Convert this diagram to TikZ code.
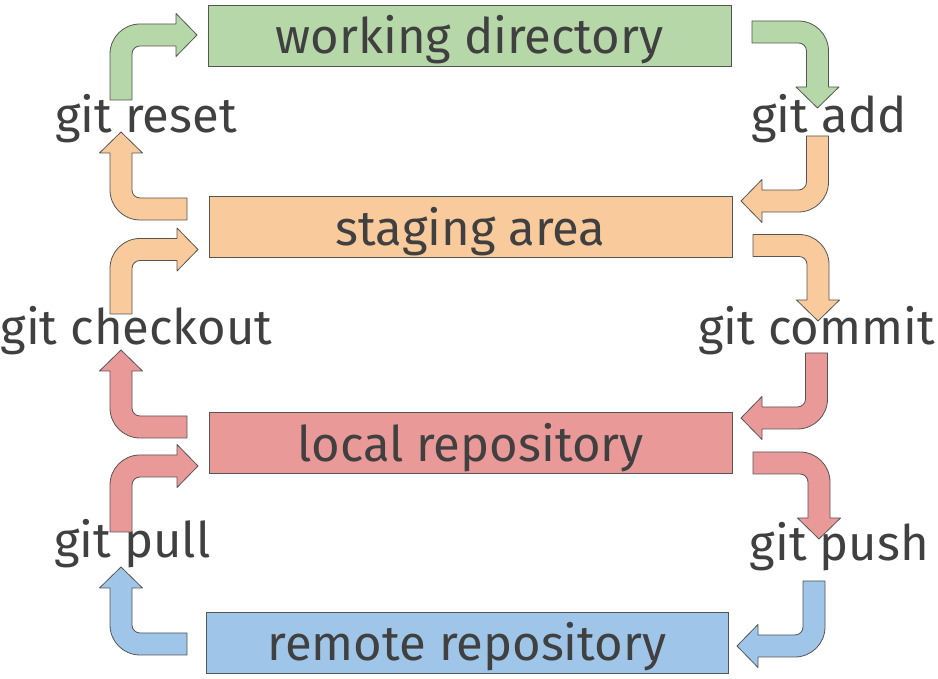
\documentclass[tikz,border=0pt]{standalone}
\usepackage{fontspec}
\setmainfont{Fira Sans}
\definecolor{edge}{HTML}{555555}
\definecolor{ink}{HTML}{404040}
\definecolor{wdfill}{HTML}{B6D7A8}
\definecolor{stfill}{HTML}{F9CB9C}
\definecolor{lcfill}{HTML}{EA9999}
\definecolor{rmfill}{HTML}{9FC5E8}
% geometry of the bent block arrows (in pt)
\def\shaftw{11}  % half width of the shaft
\def\turnr{19}   % radius of the bend, on the centre line
\def\headw{21.5} % half width of the head
\def\headl{21}   % length of the head
% #1 fill, #2/#3 tail centre, #4 rotation, #5 tail-to-bend length, #6 bend-to-tip length
\newcommand\bentarrow[6]{%
  \begin{scope}[shift={(#2,#3)}, rotate=#4]
    \filldraw[bent, fill=#1]
      (-\shaftw,0) -- (-\shaftw,#5-\turnr)
      arc[start angle=180, end angle=90, radius=\turnr+\shaftw]
      -- (#6-\headl,#5+\shaftw) -- (#6-\headl,#5+\headw) -- (#6,#5)
      -- (#6-\headl,#5-\headw) -- (#6-\headl,#5-\shaftw) -- (\turnr,#5-\shaftw)
      arc[start angle=90, end angle=180, radius=\turnr-\shaftw]
      -- (\shaftw,0) -- cycle;
  \end{scope}}
\begin{document}
\begin{tikzpicture}[x=1pt, y=1pt,
  area/.style={draw=edge, line width=0.9pt, inner sep=0pt, text=ink,
    minimum height=61pt, text height=45pt, text depth=8pt,
    font=\fontsize{49}{55}\selectfont},
  cmd/.style={anchor=base, inner sep=0pt, text=ink,
    font=\fontsize{49}{55}\selectfont},
  bent/.style={draw=edge, line width=0.8pt, line join=round}]
\useasboundingbox (0,0) rectangle (938,679);

% the four areas
\node[area, fill=wdfill, minimum width=523pt] (wd) at (469.5,643.5) {working directory};
\node[area, fill=stfill, minimum width=523pt] (st) at (470.5,452) {staging area};
\node[area, fill=lcfill, minimum width=523pt] (lc) at (470.5,236) {local repository};
\node[area, fill=rmfill, minimum width=522pt] (rm) at (467,36.5) {remote repository};

% the commands
\node[cmd] (reset)    at (146,546)   {git reset};
\node[cmd] (add)      at (829,546)   {git add};
\node[cmd] (checkout) at (136.5,334) {git checkout};
\node[cmd] (commit)   at (816.5,334) {git commit};
\node[cmd] (pull)     at (132.5,121) {git pull};
\node[cmd] (push)     at (839.5,118) {git push};

% left column: up then right
\bentarrow{wdfill}{121}{579}{0}{65}{76}
\bentarrow{stfill}{121}{365}{0}{64.5}{77}
\bentarrow{lcfill}{121}{147}{0}{66}{77}
% left column: left then up
\bentarrow{stfill}{187}{470}{90}{66}{77}
\bentarrow{lcfill}{187}{252}{90}{66}{77}
\bentarrow{rmfill}{187}{35}{90}{66}{77}
% right column: right then down
\bentarrow{wdfill}{752}{647}{-90}{65.5}{76}
\bentarrow{stfill}{753}{433.5}{-90}{65}{75.5}
\bentarrow{lcfill}{753}{216}{-90}{66}{76}
% right column: down then left
\bentarrow{stfill}{817.5}{543}{180}{65}{76.5}
\bentarrow{lcfill}{816.5}{326}{180}{65}{75.5}
\bentarrow{rmfill}{814}{98}{180}{65}{77}
\end{tikzpicture}
\end{document}
